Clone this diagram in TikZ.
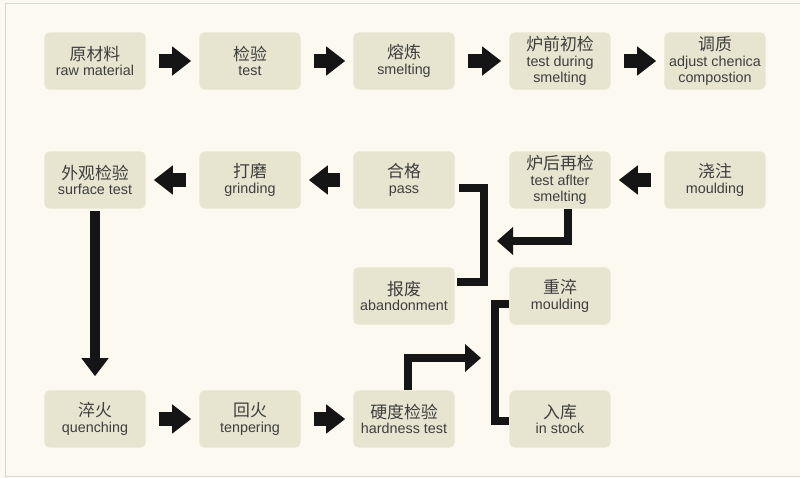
\documentclass[tikz,border=0pt]{standalone}
\usepackage{fontspec}
\setmainfont{Liberation Sans}
\newfontfamily\cjkfont{Noto Sans CJK SC}
\usepackage{tikz}
\usetikzlibrary{arrows.meta,calc}
\definecolor{pgbg}{HTML}{FCF9F1}
\definecolor{pgbox}{HTML}{E7E5D0}
\definecolor{pgtext}{HTML}{3E3E3E}
\definecolor{pgframe}{HTML}{D9D7CE}
\definecolor{pgarrow}{HTML}{151515}
\newcommand{\zh}[1]{{\cjkfont\fontsize{12}{13}\selectfont #1}}

\begin{document}
\begin{tikzpicture}[x=0.025cm,y=-0.025cm,
  box/.style={fill=pgbox,rounded corners=0.12cm,minimum width=2.525cm,minimum height=1.425cm,
    inner sep=0pt,align=center,text=pgtext,font=\fontsize{10.2}{11.2}\selectfont},
  flow/.style={pgarrow,line width=0.35cm,-{Triangle[length=0.475cm,width=0.7cm]},
    shorten <=0.325cm,shorten >=0.2cm},
  elbow/.style={pgarrow,line width=0.2cm,line join=miter,-{Triangle[length=0.4cm,width=0.675cm]}},
  bracket/.style={pgarrow,line width=0.2cm,line join=miter}]
  % page and frame
  \fill[pgbg] (0,0) rectangle (800,478);
  \useasboundingbox (0,0) rectangle (800,478);
  \draw[pgframe,line width=0.6pt] (5,476) -- (5,3) -- (800,3);
  \draw[pgframe,line width=0.6pt] (5,476) -- (800,476);
  % first row
  \node[box] (raw)    at (95,61)  {\zh{原材料}\\raw material};
  \node[box] (test)   at (250,61) {\zh{检验}\\test};
  \node[box] (smelt)  at (404,61) {\zh{熔炼}\\smelting};
  \node[box] (tds)    at (560,61) {\zh{炉前初检}\\test during\\smelting};
  \node[box] (adjust) at (715,61) {\zh{调质}\\adjust chenica\\compostion};
  % second row
  \node[box] (surf)   at (95,180)  {\zh{外观检验}\\surface test};
  \node[box] (grind)  at (250,180) {\zh{打磨}\\grinding};
  \node[box] (pass)   at (404,180) {\zh{合格}\\pass};
  \node[box] (tas)    at (560,180) {\zh{炉后再检}\\test aflter\\smelting};
  \node[box] (pour)   at (715,180) {\zh{浇注}\\moulding};
  % third row
  \node[box] (aband)    at (404,296) {\zh{报废}\\abandonment};
  \node[box] (requench) at (560,296) {\zh{重淬}\\moulding};
  % fourth row
  \node[box] (quench) at (95,419)  {\zh{淬火}\\quenching};
  \node[box] (temper) at (250,419) {\zh{回火}\\tenpering};
  \node[box] (hard)   at (404,419) {\zh{硬度检验}\\hardness test};
  \node[box] (stock)  at (560,419) {\zh{入库}\\in stock};
  % straight block arrows
  \foreach \a/\b in {raw/test,test/smelt,smelt/tds,tds/adjust,pour/tas,pass/grind,grind/surf,quench/temper,temper/hard}
    \draw[flow] (\a) -- (\b);
  \draw[pgarrow,line width=0.25cm,-{Triangle[length=0.45cm,width=0.65cm]},shorten <=0.05cm,shorten >=0.35cm] (surf) -- (quench);
  % elbows and brackets
  \coordinate (joinA) at (497,241);
  \coordinate (joinB) at (481,358);
  \draw[bracket] ($(pass.east)+(4,8)$) -- ++(25,0) |- ($(aband.east)+(2,-14)$);
  \draw[elbow] ([xshift=0.2cm]tas.south) |- (joinA);
  \draw[bracket] ($(requench.west)+(0,8)$) -- ++(-14,0) |- ($(stock.west)+(0,2)$);
  \draw[elbow] ([xshift=0.1cm]hard.north) |- (joinB);
\end{tikzpicture}
\end{document}
